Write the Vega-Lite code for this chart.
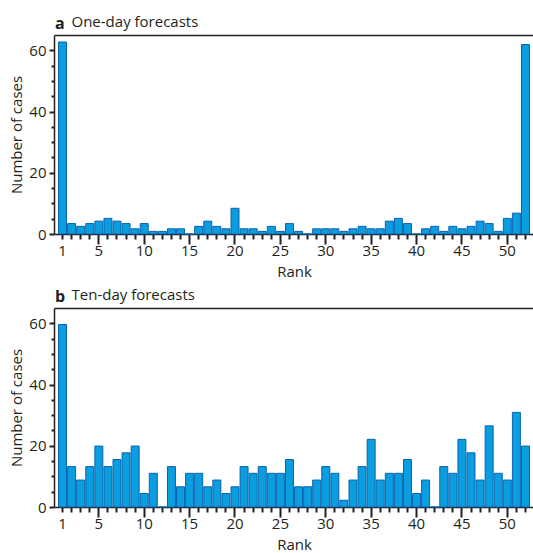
{
  "$schema": "https://vega.github.io/schema/vega-lite/v6.json",
  "padding": {"left": 9, "top": 14, "right": 0, "bottom": 0},
  "spacing": 8,
  "config": {
    "font": "Open Sans",
    "view": {"stroke": null},
    "axis": {
      "domain": true,
      "domainColor": "#231f20",
      "domainWidth": 1.5,
      "ticks": true,
      "tickColor": "#231f20",
      "tickWidth": 2,
      "labelColor": "#231f20",
      "labelFontSize": 15,
      "labelFont": "Open Sans",
      "titleColor": "#231f20",
      "titleFont": "Open Sans",
      "titleFontSize": 15,
      "titleFontWeight": "normal",
      "grid": false
    },
    "title": {"color": "#231f20", "font": "Open Sans"}
  },
  "datasets": {
    "oneday": [
      {"rank": 1, "cases": 62.7}, {"rank": 2, "cases": 3.4}, {"rank": 3, "cases": 2.5}, {"rank": 4, "cases": 3.4},
      {"rank": 5, "cases": 4.2}, {"rank": 6, "cases": 5.1}, {"rank": 7, "cases": 4.2}, {"rank": 8, "cases": 3.4},
      {"rank": 9, "cases": 1.7}, {"rank": 10, "cases": 3.4}, {"rank": 11, "cases": 0.85}, {"rank": 12, "cases": 0.85},
      {"rank": 13, "cases": 1.7}, {"rank": 14, "cases": 1.7}, {"rank": 15, "cases": 0}, {"rank": 16, "cases": 2.5},
      {"rank": 17, "cases": 4.2}, {"rank": 18, "cases": 2.5}, {"rank": 19, "cases": 1.7}, {"rank": 20, "cases": 8.4},
      {"rank": 21, "cases": 1.7}, {"rank": 22, "cases": 1.7}, {"rank": 23, "cases": 0.85}, {"rank": 24, "cases": 2.5},
      {"rank": 25, "cases": 0.85}, {"rank": 26, "cases": 3.4}, {"rank": 27, "cases": 0.85}, {"rank": 28, "cases": 0},
      {"rank": 29, "cases": 1.7}, {"rank": 30, "cases": 1.7}, {"rank": 31, "cases": 1.7}, {"rank": 32, "cases": 0.85},
      {"rank": 33, "cases": 1.7}, {"rank": 34, "cases": 2.5}, {"rank": 35, "cases": 1.7}, {"rank": 36, "cases": 1.7},
      {"rank": 37, "cases": 4.2}, {"rank": 38, "cases": 5.1}, {"rank": 39, "cases": 3.4}, {"rank": 40, "cases": 0},
      {"rank": 41, "cases": 1.7}, {"rank": 42, "cases": 2.5}, {"rank": 43, "cases": 0.85}, {"rank": 44, "cases": 2.5},
      {"rank": 45, "cases": 1.7}, {"rank": 46, "cases": 2.5}, {"rank": 47, "cases": 4.2}, {"rank": 48, "cases": 3.4},
      {"rank": 49, "cases": 0.85}, {"rank": 50, "cases": 5.1}, {"rank": 51, "cases": 6.8}, {"rank": 52, "cases": 61.9}
    ],
    "tenday": [
      {"rank": 1, "cases": 59.6}, {"rank": 2, "cases": 13.2}, {"rank": 3, "cases": 8.8}, {"rank": 4, "cases": 13.2},
      {"rank": 5, "cases": 19.9}, {"rank": 6, "cases": 13.2}, {"rank": 7, "cases": 15.5}, {"rank": 8, "cases": 17.7},
      {"rank": 9, "cases": 19.9}, {"rank": 10, "cases": 4.4}, {"rank": 11, "cases": 11.0}, {"rank": 12, "cases": 0},
      {"rank": 13, "cases": 13.2}, {"rank": 14, "cases": 6.6}, {"rank": 15, "cases": 11.0}, {"rank": 16, "cases": 11.0},
      {"rank": 17, "cases": 6.6}, {"rank": 18, "cases": 8.8}, {"rank": 19, "cases": 4.4}, {"rank": 20, "cases": 6.6},
      {"rank": 21, "cases": 13.2}, {"rank": 22, "cases": 11.0}, {"rank": 23, "cases": 13.2}, {"rank": 24, "cases": 11.0},
      {"rank": 25, "cases": 11.0}, {"rank": 26, "cases": 15.5}, {"rank": 27, "cases": 6.6}, {"rank": 28, "cases": 6.6},
      {"rank": 29, "cases": 8.8}, {"rank": 30, "cases": 13.2}, {"rank": 31, "cases": 11.0}, {"rank": 32, "cases": 2.2},
      {"rank": 33, "cases": 8.8}, {"rank": 34, "cases": 13.2}, {"rank": 35, "cases": 22.1}, {"rank": 36, "cases": 8.8},
      {"rank": 37, "cases": 11.0}, {"rank": 38, "cases": 11.0}, {"rank": 39, "cases": 15.5}, {"rank": 40, "cases": 4.4},
      {"rank": 41, "cases": 8.8}, {"rank": 42, "cases": 0}, {"rank": 43, "cases": 13.2}, {"rank": 44, "cases": 11.0},
      {"rank": 45, "cases": 22.1}, {"rank": 46, "cases": 17.7}, {"rank": 47, "cases": 8.8}, {"rank": 48, "cases": 26.5},
      {"rank": 49, "cases": 11.0}, {"rank": 50, "cases": 8.8}, {"rank": 51, "cases": 30.9}, {"rank": 52, "cases": 19.9}
    ]
  },
  "vconcat": [
    {
      "data": {"name": "oneday"},
      "width": 480,
      "height": 199,
      "title": {"text": "a", "fontWeight": "bold", "fontSize": 16, "anchor": "start", "frame": "group", "dy": 22, "dx": 1},
      "layer": [
        {
          "mark": {"type": "bar", "fill": "#0a9de0", "stroke": "#0b62ad", "strokeWidth": 1},
          "encoding": {
            "x": {
              "field": "rank", "type": "ordinal",
              "scale": {"paddingInner": 0.12, "paddingOuter": 0.5},
              "axis": {
                "title": "Rank", "titlePadding": 6, "labelAngle": 0, "labelOverlap": false,
                "labelExpr": "datum.value % 5 == 0 || datum.value == 1 ? datum.label : ''",
                "tickSize": {"condition": {"test": "datum.value % 5 == 0", "value": 10}, "value": 5},
                "labelPadding": {"condition": {"test": "datum.value % 5 == 0", "value": -1}, "value": 4}
              }
            },
            "y": {
              "field": "cases", "type": "quantitative",
              "scale": {"domain": [0, 65], "nice": false},
              "axis": {
                "title": "Number of cases", "titlePadding": 4,
                "values": [0, 5, 10, 15, 20, 25, 30, 35, 40, 45, 50, 55, 60],
                "labelExpr": "datum.value % 20 == 0 ? datum.label : ''",
                "tickSize": {"condition": {"test": "datum.value % 20 == 0", "value": 5}, "value": 3},
                "labelPadding": 3
              }
            }
          }
        },
        {
          "mark": {"type": "bar", "opacity": 0},
          "encoding": {
            "x": {
              "field": "rank", "type": "ordinal",
              "axis": {"orient": "top", "labels": false, "ticks": false, "domain": true,
                "title": "One-day forecasts", "titleAnchor": "start", "titleAlign": "left",
                "titleBaseline": "alphabetic", "titleX": 17, "titleY": -9}
            }
          }
        }
      ],
      "resolve": {"axis": {"x": "independent"}}
    },
    {
      "data": {"name": "tenday"},
      "width": 480,
      "height": 199,
      "title": {"text": "b", "fontWeight": "bold", "fontSize": 16, "anchor": "start", "frame": "group", "dy": 22, "dx": 1},
      "layer": [
        {
          "mark": {"type": "bar", "fill": "#0a9de0", "stroke": "#0b62ad", "strokeWidth": 1},
          "encoding": {
            "x": {
              "field": "rank", "type": "ordinal",
              "scale": {"paddingInner": 0.12, "paddingOuter": 0.5},
              "axis": {
                "title": "Rank", "titlePadding": 6, "labelAngle": 0, "labelOverlap": false,
                "labelExpr": "datum.value % 5 == 0 || datum.value == 1 ? datum.label : ''",
                "tickSize": {"condition": {"test": "datum.value % 5 == 0", "value": 10}, "value": 5},
                "labelPadding": {"condition": {"test": "datum.value % 5 == 0", "value": -1}, "value": 4}
              }
            },
            "y": {
              "field": "cases", "type": "quantitative",
              "scale": {"domain": [0, 65], "nice": false},
              "axis": {
                "title": "Number of cases", "titlePadding": 4,
                "values": [0, 5, 10, 15, 20, 25, 30, 35, 40, 45, 50, 55, 60],
                "labelExpr": "datum.value % 20 == 0 ? datum.label : ''",
                "tickSize": {"condition": {"test": "datum.value % 20 == 0", "value": 5}, "value": 3},
                "labelPadding": 3
              }
            }
          }
        },
        {
          "mark": {"type": "bar", "opacity": 0},
          "encoding": {
            "x": {
              "field": "rank", "type": "ordinal",
              "axis": {"orient": "top", "labels": false, "ticks": false, "domain": true,
                "title": "Ten-day forecasts", "titleAnchor": "start", "titleAlign": "left",
                "titleBaseline": "alphabetic", "titleX": 17, "titleY": -9}
            }
          }
        }
      ],
      "resolve": {"axis": {"x": "independent"}}
    }
  ]
}
